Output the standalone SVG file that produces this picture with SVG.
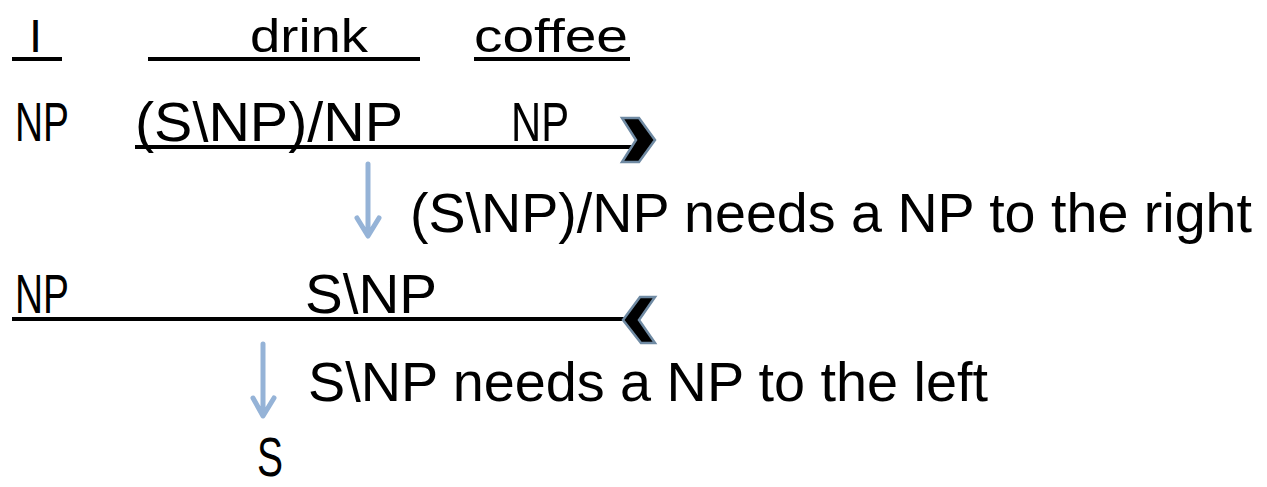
<svg xmlns="http://www.w3.org/2000/svg" width="1267" height="487" viewBox="0 0 1267 487">
<defs>
<style>
.t{font-family:"Liberation Sans",Arial,sans-serif;font-size:56px;fill:#000}
.h{font-family:"Liberation Sans",Arial,sans-serif;font-size:47px;fill:#000}
.ul{stroke:#000;stroke-width:4;fill:none}
.rule{stroke:#000;stroke-width:4;fill:none}
.chev{fill:#000;stroke:#6F8AA3;stroke-width:2.5;stroke-linejoin:miter}
.down{stroke:#95B3D7;stroke-width:5;fill:none;stroke-linecap:round;stroke-linejoin:round}
</style>
</defs>
<rect width="1267" height="487" fill="#fff"/>
<g id="words">
<text class="h" x="29" y="52">I</text>
<line class="ul" x1="12" y1="59" x2="62" y2="59"/>
<text class="h" x="250" y="52" textLength="118" lengthAdjust="spacingAndGlyphs">drink</text>
<line class="ul" x1="148" y1="59" x2="420" y2="59"/>
<text class="h" x="474" y="52" textLength="154" lengthAdjust="spacingAndGlyphs">coffee</text>
<line class="ul" x1="474" y1="59" x2="630" y2="59"/>
</g>
<g id="row2">
<text class="t" x="15" y="141" textLength="54" lengthAdjust="spacingAndGlyphs">NP</text>
<text class="t" x="135" y="141" textLength="268" lengthAdjust="spacingAndGlyphs">(S\NP)/NP</text>
<text class="t" x="511" y="141" textLength="58" lengthAdjust="spacingAndGlyphs">NP</text>
</g>
<g id="row3">
<text class="t" x="15" y="313" textLength="54" lengthAdjust="spacingAndGlyphs">NP</text>
<text class="t" x="305" y="313" textLength="132" lengthAdjust="spacingAndGlyphs">S\NP</text>
</g>
<g id="notes">
<text class="t" x="410" y="232" textLength="842" lengthAdjust="spacingAndGlyphs">(S\NP)/NP needs a NP to the right</text>
<text class="t" x="308" y="401" textLength="680" lengthAdjust="spacingAndGlyphs">S\NP needs a NP to the left</text>
<text class="t" x="257" y="476" font-size="50" textLength="26" lengthAdjust="spacingAndGlyphs">S</text>
</g>
<g id="connectors">
<line class="rule" x1="135" y1="147" x2="638" y2="147"/>
<polygon class="chev" points="622,118 639,118 655,140 639,162 622,162 636,140"/>
<line class="rule" x1="12" y1="319" x2="628" y2="319"/>
<polygon class="chev" points="640,297 655,297 639,320 655,343 641,343 623,320"/>
<path class="down" d="M368,164 V235 M357,218 L368,236 L379,218"/>
<path class="down" d="M263,344 V415 M253,398 L263,416 L274,398"/>
</g>
</svg>
